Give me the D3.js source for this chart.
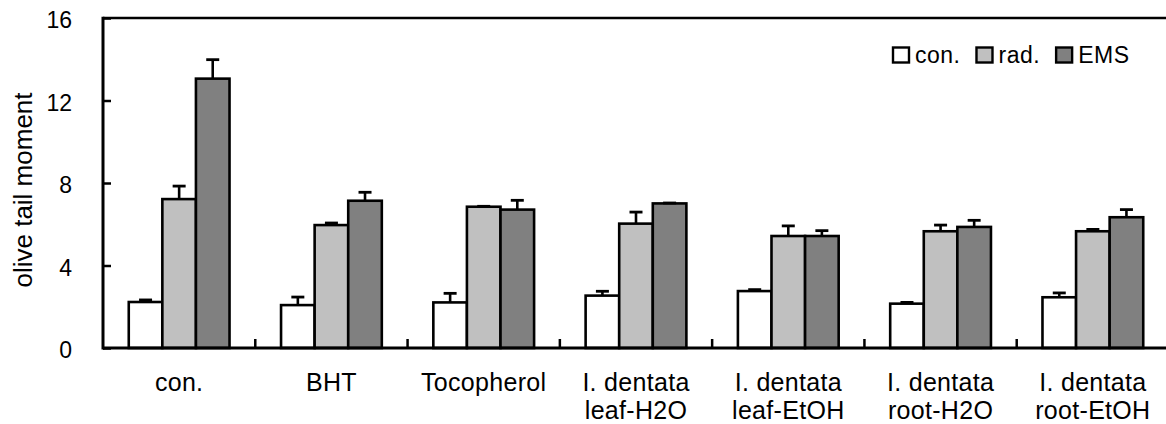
<!DOCTYPE html>
<html>
<head>
<meta charset="utf-8">
<script src="https://cdn.jsdelivr.net/npm/d3@7"></script>
<style>
  html, body { margin: 0; padding: 0; background: #fff; }
  svg { display: block; }
  text { font-family: "Liberation Sans", Arial, sans-serif; fill: #000; }
</style>
</head>
<body>
<svg id="chart" width="1166" height="424"></svg>
<script>
// ---- data ----
const categories = ["con.", "BHT", "Tocopherol", "I. dentata\nleaf-H2O", "I. dentata\nleaf-EtOH", "I. dentata\nroot-H2O", "I. dentata\nroot-EtOH"];
const seriesNames = ["con.", "rad.", "EMS"];
const seriesColors = ["#ffffff", "#c0c0c0", "#808080"];
const conValues = [2.23, 2.08, 2.21, 2.54, 2.76, 2.15, 2.46];
const radValues = [7.22, 5.96, 6.85, 6.03, 5.43, 5.66, 5.66];
const emsValues = [13.06, 7.14, 6.71, 7.01, 5.43, 5.87, 6.34];
const conErrors = [0.10, 0.39, 0.44, 0.21, 0.07, 0.06, 0.21];
const radErrors = [0.63, 0.10, 0.02, 0.56, 0.49, 0.30, 0.09];
const emsErrors = [0.92, 0.41, 0.45, 0.02, 0.26, 0.32, 0.37];
const yTicks = [0, 4, 8, 12, 16];
const yTitle = "olive tail moment";

const seriesValues = [conValues, radValues, emsValues];
const seriesErrors = [conErrors, radErrors, emsErrors];

// ---- layout ----
const svg = d3.select("#chart");
const mLeft = 103, mTop = 18, mBottom = 348, mRight = 1169;

const x0 = d3.scaleBand().domain(categories).range([mLeft, mRight]).padding(0);
const x1 = d3.scaleBand().domain(seriesNames).range([0, x0.bandwidth()]).paddingInner(0).paddingOuter(0.767);
const y = d3.scaleLinear().domain([0, 16]).range([mBottom, mTop]);

// bars
const groups = svg.append("g").selectAll("g")
  .data(categories).join("g")
  .attr("transform", d => `translate(${x0(d)},0)`);

groups.each(function (cat, ci) {
  const g = d3.select(this);
  seriesNames.forEach((s, si) => {
    const v = seriesValues[si][ci];
    g.append("rect")
      .attr("x", x1(s))
      .attr("y", y(v))
      .attr("width", x1.bandwidth())
      .attr("height", y(0) - y(v))
      .attr("fill", seriesColors[si])
      .attr("stroke", "#000")
      .attr("stroke-width", 2.6);
  });
  seriesNames.forEach((s, si) => {
    const v = seriesValues[si][ci];
    const e = seriesErrors[si][ci];
    const cx = x1(s) + x1.bandwidth() / 2;
    g.append("line")
      .attr("x1", cx).attr("x2", cx)
      .attr("y1", y(v)).attr("y2", y(v + e))
      .attr("stroke", "#000").attr("stroke-width", 2.6);
    g.append("line")
      .attr("x1", cx - 6.5).attr("x2", cx + 6.5)
      .attr("y1", y(v + e)).attr("y2", y(v + e))
      .attr("stroke", "#000").attr("stroke-width", 2.8);
  });
});

// y axis
const yAxis = d3.axisRight(y).tickValues(yTicks).tickSize(8).tickFormat("");
const yG = svg.append("g").attr("transform", `translate(${mLeft},0)`).call(yAxis);
yG.select(".domain").remove();
yG.selectAll(".tick line").attr("stroke", "#000").attr("stroke-width", 2.5);

svg.append("g").selectAll("text").data(yTicks).join("text")
  .attr("x", 72)
  .attr("y", d => y(d))
  .attr("dy", "0.45em")
  .attr("text-anchor", "end")
  .style("font-size", "23px")
  .text(d => d);

// frame lines
svg.append("line").attr("x1", mLeft).attr("x2", mRight).attr("y1", mTop).attr("y2", mTop)
  .attr("stroke", "#000").attr("stroke-width", 2.6);
svg.append("line").attr("x1", mLeft).attr("x2", mLeft).attr("y1", mTop - 1.3).attr("y2", mBottom + 1.5)
  .attr("stroke", "#000").attr("stroke-width", 3);

// x axis
const xAxis = d3.axisTop(x0).tickSize(9).tickFormat("");
const xG = svg.append("g").attr("transform", `translate(0,${mBottom})`).call(xAxis);
xG.select(".domain").remove();
xG.selectAll(".tick").attr("transform", d => `translate(${x0(d) + x0.step()},0)`);
xG.selectAll(".tick line").attr("stroke", "#000").attr("stroke-width", 2.5);
svg.append("line").attr("x1", mLeft).attr("x2", mRight).attr("y1", mBottom).attr("y2", mBottom)
  .attr("stroke", "#000").attr("stroke-width", 3);

// x labels
const xl = svg.append("g").selectAll("text").data(categories).join("text")
  .attr("text-anchor", "middle")
  .style("font-size", "25px")
  .style("letter-spacing", "0.3px")
  .attr("x", d => x0(d) + x0.bandwidth() / 2)
  .attr("y", 391);
xl.each(function (d) {
  const t = d3.select(this);
  d.split("\n").forEach((line, i) => {
    t.append("tspan").attr("x", x0(d) + x0.bandwidth() / 2).attr("y", 391 + i * 28).text(line);
  });
});

// y title
svg.append("text")
  .attr("transform", `translate(32,190) rotate(-90)`)
  .attr("text-anchor", "middle")
  .style("font-size", "26px")
  .text(yTitle);

// legend
const legend = svg.append("g");
let lx = 892;
seriesNames.forEach((s, i) => {
  legend.append("rect")
    .attr("x", lx + 1).attr("y", 47.5)
    .attr("width", 16).attr("height", 15)
    .attr("fill", seriesColors[i]).attr("stroke", "#000").attr("stroke-width", 2.4);
  const t = legend.append("text")
    .attr("x", lx + 23).attr("y", 63)
    .style("font-size", "23px")
    .style("letter-spacing", "0.5px")
    .text(s);
  lx = lx + 23 + t.node().getComputedTextLength() + 15;
});
</script>
</body>
</html>
